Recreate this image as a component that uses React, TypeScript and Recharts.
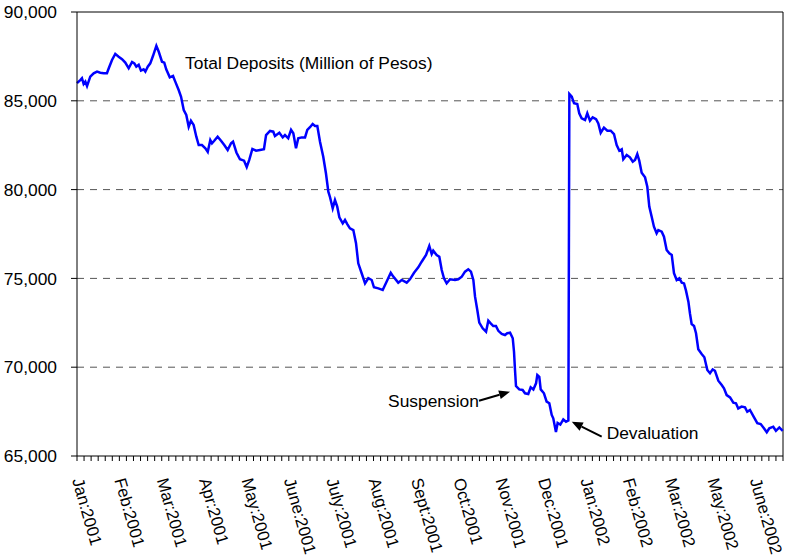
import { LineChart, Line, XAxis, YAxis, CartesianGrid, ReferenceLine, ReferenceDot } from 'recharts';

// day offset from Jan:2001 (each label period counted as 30 days)
const days = [
  0, 2.3, 3.5, 4.7, 5.9, 7.1, 9.4, 11.8, 14.2, 16.5, 18.9, 21.2, 22.5, 24.8, 27.1, 29.5, 31.9, 34.2, 36.6, 39,
  40.6, 42, 43.7, 45.3, 47.2, 48.4, 50.1, 51.9, 53.8, 56.2, 57.9, 60.2, 61.8, 63.2, 65.7, 68, 69.6, 72, 73.7, 75.6,
  77.4, 79.1, 80.7, 82.6, 84.5, 86.2, 88.5, 90.9, 92.6, 94.4, 95.6, 97.2, 99.6, 102, 104.3, 106.7, 109.1, 110.5, 112.9, 115.4,
  118.3, 120.2, 122, 124.2, 126.8, 129.6, 132.4, 133.9, 136.7, 139, 140.2, 143.3, 145.7, 147.3, 149.6, 151.6, 153.2, 155.1, 156.7, 159.1,
  161.5, 163.1, 165, 166.9, 168.6, 170.2, 172.1, 174.4, 176.3, 178, 179.2, 181.1, 182.7, 184.3, 185.8, 188.2, 189.8, 191.4, 193.3, 195.7,
  197.6, 199.2, 201.6, 204, 206.3, 208.7, 210.3, 213.4, 216.5, 219, 222.2, 224, 227.5, 230, 233.5, 235.8, 238.7, 241.7, 244.1, 247.2,
  249.5, 251.2, 252.3, 254.7, 256.6, 258.3, 259.9, 261.8, 264.2, 267.7, 270, 272.5, 274.8, 277.1, 279, 280.7, 281.9, 283.5, 284.9, 287.3,
  289.7, 291.3, 293, 294.8, 296.7, 298.4, 300.8, 303.1, 304.7, 306.7, 308.6, 309.5, 310.2, 310.9, 313.2, 315.6, 317.3, 319.6, 321.3, 323.2,
  325.1, 326, 327.4, 328.4, 330.7, 332.6, 334.5, 336.2, 337.3, 339.2, 340.4, 342.3, 344.4, 346.3, 348, 348.7, 350.4, 352, 354.3, 355.7,
  357.4, 359.8, 361.4, 363.3, 365.2, 367.6, 369.2, 370.9, 373.2, 375.6, 378, 380.3, 382.2, 384.1, 385.8, 386.9, 389.3, 391.6, 393.6, 395.2,
  396.8, 398.2, 399.9, 402.3, 403.9, 405.3, 407, 408.6, 410.5, 411.7, 414.1, 415.7, 417.6, 419.5, 421.2, 422.8, 424.7, 426.6, 428.3, 429.9,
  431.3, 433, 434.1, 435.3, 437, 438.4, 440, 442.4, 444.3, 446.4, 448.3, 450.2, 451.8, 454.2, 456.6, 458.2, 460.1, 462.5, 464.8, 466.7,
  468.3, 470.7, 473.1, 474.7, 476.6, 479, 481.8, 484.2, 486.5, 488.5, 490.3, 493.1, 495, 497.4, 499.8,
];

// total deposits, million of pesos
const deposits = [
  85990, 86170, 86270, 85950, 86080, 85830, 86360, 86550, 86640, 86580, 86550, 86550, 86830, 87300, 87640, 87480, 87340, 87150, 86830, 87190,
  87110, 86920, 87030, 86700, 86770, 86640, 86920, 87110, 87520, 88090, 87760, 87200, 87150, 86770, 86320, 86400, 86080, 85610, 85230, 84480,
  84200, 83540, 83880, 83640, 82980, 82510, 82510, 82330, 82130, 82790, 82610, 82750, 82980, 82750, 82510, 82230, 82610, 82700, 82090, 81710,
  81630, 81270, 81670, 82290, 82190, 82230, 82270, 83070, 83300, 83260, 83020, 83200, 82940, 83070, 82890, 83360, 83170, 82330, 82890, 82940,
  82940, 83360, 83510, 83690, 83580, 83580, 82700, 81850, 80920, 79880, 79570, 78950, 79410, 79040, 78440, 78100, 78290, 78060, 77820, 77720,
  76980, 75850, 75290, 74720, 75010, 74910, 74500, 74440, 74350, 74770, 75320, 75100, 74760, 74910, 74760, 74950, 75320, 75620, 75940, 76320,
  76820, 76370, 76560, 76320, 76220, 75470, 75010, 74720, 74950, 74910, 74950, 75100, 75380, 75510, 75380, 74910, 73970, 73220, 72510, 72190,
  72000, 72620, 72470, 72320, 72320, 72050, 71870, 71810, 71910, 71940, 71630, 70870, 69840, 68940, 68750, 68720, 68530, 68490, 68870, 68750,
  69090, 69560, 69460, 68750, 68530, 68060, 67970, 67310, 67120, 66350, 66860, 66770, 67060, 66930, 67000, 85380, 85230, 84860, 84820, 84300,
  84010, 83920, 84300, 83880, 84070, 83960, 83730, 83200, 83490, 83320, 83320, 83130, 82510, 82190, 82270, 81710, 81950, 81820, 81570, 81670,
  82000, 81630, 80950, 80690, 80160, 79040, 78470, 77910, 77540, 77720, 77630, 77350, 76600, 76410, 76320, 75290, 74910, 75010, 74760, 74720,
  74310, 73690, 73030, 72430, 72320, 71910, 71010, 70740, 70560, 69840, 69660, 69880, 69800, 69240, 69000, 68810, 68430, 68300, 68000, 67970,
  67680, 67780, 67740, 67490, 67590, 67250, 66850, 66800, 66560, 66340, 66560, 66650, 66420, 66610, 66420,
];

const monthLabels = [
  'Jan:2001', 'Feb:2001', 'Mar:2001', 'Apr:2001', 'May:2001', 'June:2001', 'July:2001', 'Aug:2001', 'Sept:2001',
  'Oct:2001', 'Nov:2001', 'Dec:2001', 'Jan:2002', 'Feb:2002', 'Mar:2002', 'May:2002', 'June:2002',
];

const yTicks = [65000, 70000, 75000, 80000, 85000, 90000];
const gridValues = [70000, 75000, 80000, 85000];

const FONT = '"Liberation Sans", Arial, sans-serif';
const FS = 17.4;

const data = days.slice(0, deposits.length).map((day, i) => ({ day, value: deposits[i] }));
const xTicks = Array.from({ length: 101 }, (_, i) => i * 5);

function MonthTick({ x, y, payload }: any) {
  const v = payload.value;
  const label = v % 30 === 0 ? monthLabels[v / 30] : undefined;
  if (!label) return <g />;
  const ax = x - 5;
  const ay = y + 17;
  return (
    <text x={ax} y={ay} transform={`rotate(74 ${ax} ${ay})`} fontSize={16.8} fontFamily={FONT} fill="#000" textAnchor="start">
      {label}
    </text>
  );
}

function Arrow(props: any) {
  const { x1, y1, x2, y2 } = props;
  const ang = Math.atan2(y2 - y1, x2 - x1);
  const len = 11;
  const w = 4.5;
  const bx = x2 - len * Math.cos(ang);
  const by = y2 - len * Math.sin(ang);
  const px = -Math.sin(ang) * w;
  const py = Math.cos(ang) * w;
  return (
    <g>
      <line x1={x1} y1={y1} x2={bx} y2={by} stroke="#000" strokeWidth={2} />
      <polygon points={`${x2},${y2} ${bx + px},${by + py} ${bx - px},${by - py}`} fill="#000" />
    </g>
  );
}

const note = (text: string) => (p: any) => (
  <text x={p.cx} y={p.cy} fontSize={FS} fontFamily={FONT} fill="#000">
    {text}
  </text>
);

export default function App() {
  return (
    <div style={{ position: 'absolute', left: 0, top: 0, background: '#fff' }}>
      <LineChart width={785} height={555} data={data} margin={{ top: 12, right: 2, left: 0, bottom: 0 }}>
        <CartesianGrid horizontal vertical={false} horizontalValues={gridValues} stroke="#555" strokeDasharray="7 6" />
        <XAxis
          dataKey="day"
          type="number"
          domain={[0, 500]}
          ticks={xTicks}
          interval={0}
          height={99}
          tickSize={5}
          tickLine={{ stroke: '#000' }}
          axisLine={{ stroke: '#000' }}
          tick={<MonthTick />}
        />
        <YAxis
          domain={[65000, 90000]}
          ticks={yTicks}
          width={77}
          tickSize={6}
          tickMargin={14}
          tickLine={{ stroke: '#000' }}
          axisLine={{ stroke: '#000' }}
          tick={{ fontSize: FS, fill: '#000', fontFamily: FONT }}
          tickFormatter={(v: number) => v.toLocaleString('en-US')}
        />
        <ReferenceLine y={90000} stroke="#000" />
        <ReferenceLine x={500} stroke="#000" />
        <Line
          type="linear"
          dataKey="value"
          stroke="#0000ff"
          strokeWidth={2.5}
          dot={false}
          activeDot={false}
          isAnimationActive={false}
        />
        <ReferenceDot x={76.5} y={86790} r={0} shape={note('Total Deposits (Million of Pesos)')} />
        <ReferenceDot x={220.3} y={67770} r={0} shape={note('Suspension')} />
        <ReferenceDot x={375.1} y={65940} r={0} shape={note('Devaluation')} />
        <ReferenceLine segment={[{ x: 284.7, y: 68110 }, { x: 306.7, y: 68620 }]} shape={Arrow} />
        <ReferenceLine segment={[{ x: 371.6, y: 66090 }, { x: 350.4, y: 66930 }]} shape={Arrow} />
      </LineChart>
    </div>
  );
}
